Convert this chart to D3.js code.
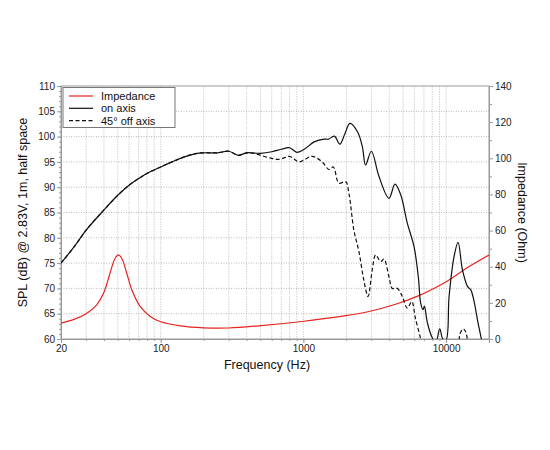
<!DOCTYPE html>
<html>
<head>
<meta charset="utf-8">
<script src="https://cdn.jsdelivr.net/npm/d3@7"></script>
<style>
  body { margin: 0; background: #fff; }
  text { font-family: "Liberation Sans", Arial, sans-serif; }
</style>
</head>
<body>
<div id="chart"></div>
<script>
// on axis SPL (Hz, dB)
var onFreq = [20, 25, 30, 40, 50, 60, 70, 80, 100, 120, 150, 180, 200, 250, 300, 350, 400, 500, 600, 700, 800, 900, 1000, 1200, 1400, 1500, 1650, 1800, 1950, 2120, 2400, 2590, 2730, 2995, 3390, 3980, 4385, 4810, 5350, 5960, 6390, 6640, 6900, 7050, 7400, 8020, 8500, 9030, 9500, 10000, 10500, 11380, 12140, 13020, 14130, 14910, 15730, 16600, 17620, 18500];
var onSpl = [75.0, 78.4, 81.5, 85.5, 88.4, 90.4, 91.7, 92.7, 94.0, 95.0, 96.1, 96.7, 96.8, 96.8, 97.1, 96.3, 96.8, 96.7, 97.0, 97.5, 97.8, 96.9, 97.4, 99.0, 99.5, 99.5, 100.1, 98.5, 100.5, 102.6, 100.9, 98.0, 94.4, 97.1, 92.1, 87.8, 90.6, 88.5, 82.9, 78.3, 72.3, 67.1, 65.8, 66.5, 63.2, 60.2, 59.5, 62.0, 60.0, 59.8, 68.4, 76.3, 79.1, 73.7, 70.4, 69.7, 67.4, 63.8, 60.2, 57.0];

// 45 deg off axis SPL (Hz, dB)
var offFreq = [20, 25, 30, 40, 50, 60, 70, 80, 100, 120, 150, 180, 200, 250, 300, 350, 400, 450, 500, 600, 673, 750, 800, 930, 1000, 1150, 1355, 1510, 1620, 1775, 1980, 2085, 2260, 2450, 2650, 2840, 3040, 3210, 3480, 3670, 3980, 4200, 4550, 4940, 5350, 5750, 6100, 6640, 7000, 12000, 12500, 13240, 13700, 14000, 14500];
var offSpl = [75.0, 78.4, 81.5, 85.5, 88.4, 90.4, 91.7, 92.7, 94.0, 95.0, 96.1, 96.7, 96.8, 96.8, 97.1, 96.3, 96.8, 96.7, 96.3, 95.7, 95.5, 95.9, 96.1, 95.0, 95.3, 96.1, 95.0, 93.5, 94.0, 90.8, 91.1, 88.8, 81.5, 77.3, 71.7, 68.4, 73.7, 76.6, 75.3, 75.8, 72.3, 70.0, 70.0, 68.4, 66.1, 67.4, 64.1, 60.0, 57.0, 58.0, 61.0, 62.0, 61.5, 60.5, 58.0];

// impedance (Hz, Ohm)
var impFreq = [20, 24.4, 30, 35.6, 39.8, 44.1, 47.9, 50.5, 53.3, 57.8, 62.7, 71.7, 84.3, 99, 137, 200, 300, 487, 980, 1980, 2880, 4430, 6450, 8600, 10500, 14500, 20000];
var impOhm = [8.8, 10.7, 14.0, 18.9, 25.4, 36.4, 44.7, 46.5, 44.7, 36.4, 27.2, 18.0, 12.5, 9.7, 7.3, 6.2, 6.1, 7.3, 9.7, 12.9, 15.2, 19.2, 24.0, 28.8, 32.7, 40.1, 46.5];

var splTicks = [60, 65, 70, 75, 80, 85, 90, 95, 100, 105, 110];
var ohmTicks = [0, 20, 40, 60, 80, 100, 120, 140];
var freqTicks = [20, 100, 1000, 10000];

var legendItems = [
    { name: "Impedance", color: "#e8231f", dash: null },
    { name: "on axis", color: "#111", dash: null },
    { name: "45\u00b0 off axis", color: "#111", dash: "4,2.5" }
];

var width = 550, height = 450;
var margin = { top: 86, right: 61, bottom: 111, left: 61 };
var w = width - margin.left - margin.right,
    h = height - margin.top - margin.bottom;

var svg = d3.select("#chart").append("svg")
    .attr("width", width)
    .attr("height", height);

var g = svg.append("g")
    .attr("transform", `translate(${margin.left},${margin.top})`);

var x = d3.scaleLog().domain([20, 20000]).range([0, w]);
var y = d3.scaleLinear().domain([60, 110]).range([h, 0]);
var y2 = d3.scaleLinear().domain([0, 140]).range([h, 0]);

// all 1-2-..-9 frequencies for grid
var gridFreq = [];
[10, 100, 1000, 10000].forEach(function (dec) {
    for (var k = 1; k < 10; k++) {
        var f = dec * k;
        if (f > 20 && f < 20000) gridFreq.push(f);
    }
});

// vertical grid
g.append("g").selectAll("line")
    .data(gridFreq)
    .join("line")
    .attr("x1", d => x(d)).attr("x2", d => x(d))
    .attr("y1", 0).attr("y2", h)
    .attr("stroke", "#c8c8c8")
    .attr("stroke-width", 0.8)
    .attr("stroke-dasharray", "1.5,1");

// horizontal grid
g.append("g").selectAll("line")
    .data(splTicks.slice(1, -1))
    .join("line")
    .attr("x1", 0).attr("x2", w)
    .attr("y1", d => y(d)).attr("y2", d => y(d))
    .attr("stroke", "#a8a8a8")
    .attr("stroke-width", 0.8)
    .attr("stroke-dasharray", "1,1.5");

// frame
g.append("rect")
    .attr("width", w).attr("height", h)
    .attr("fill", "none")
    .attr("stroke", "#999")
    .attr("stroke-width", 1);

function styleAxis(sel) {
    sel.select(".domain").attr("stroke", "#999");
    sel.selectAll(".tick line").attr("stroke", "#999");
    sel.selectAll("text")
        .attr("fill", "#222")
        .style("font-size", "10px")
        .style("font-family", "'Liberation Sans', Arial, sans-serif");
}

// left axis
g.append("g")
    .call(d3.axisLeft(y).tickValues(d3.range(60, 111, 1)).tickSize(2).tickFormat(""))
    .call(styleAxis);
g.append("g")
    .call(d3.axisLeft(y).tickValues(splTicks).tickSize(4).tickPadding(2))
    .call(styleAxis);

// right axis
g.append("g")
    .attr("transform", `translate(${w},0)`)
    .call(d3.axisRight(y2).tickValues(d3.range(10, 140, 20)).tickSize(3).tickFormat(""))
    .call(styleAxis);
g.append("g")
    .attr("transform", `translate(${w},0)`)
    .call(d3.axisRight(y2).tickValues(ohmTicks).tickSize(4).tickPadding(2))
    .call(styleAxis);

// bottom axis
g.append("g")
    .attr("transform", `translate(0,${h})`)
    .call(d3.axisBottom(x).tickValues(gridFreq).tickSize(2).tickFormat(""))
    .call(styleAxis);
g.append("g")
    .attr("transform", `translate(0,${h})`)
    .call(d3.axisBottom(x).tickValues(freqTicks).tickSize(4).tickPadding(2).tickFormat(d3.format("d")))
    .call(styleAxis);

// clip for curves
svg.append("clipPath").attr("id", "plotclip")
    .append("rect").attr("width", w).attr("height", h);

var plot = g.append("g").attr("clip-path", "url(#plotclip)");

var splLine = d3.line()
    .x(d => x(d[0]))
    .y(d => y(d[1]))
    .curve(d3.curveCatmullRom.alpha(0.5));

var ohmLine = d3.line()
    .x(d => x(d[0]))
    .y(d => y2(d[1]))
    .curve(d3.curveCatmullRom.alpha(0.5));

plot.append("path")
    .datum(d3.zip(impFreq, impOhm))
    .attr("d", ohmLine)
    .attr("fill", "none")
    .attr("stroke", legendItems[0].color)
    .attr("stroke-width", 1.2);

plot.append("path")
    .datum(d3.zip(offFreq, offSpl))
    .attr("d", splLine)
    .attr("fill", "none")
    .attr("stroke", legendItems[2].color)
    .attr("stroke-width", 1.2)
    .attr("stroke-dasharray", legendItems[2].dash);

plot.append("path")
    .datum(d3.zip(onFreq, onSpl))
    .attr("d", splLine)
    .attr("fill", "none")
    .attr("stroke", legendItems[1].color)
    .attr("stroke-width", 1.2);

// legend
var lg = g.append("g").attr("transform", "translate(2,1.5)");
lg.append("rect")
    .attr("width", 112).attr("height", 40)
    .attr("fill", "#fff")
    .attr("stroke", "#777")
    .attr("stroke-width", 1);

var row = lg.selectAll("g.item")
    .data(legendItems)
    .join("g")
    .attr("class", "item")
    .attr("transform", (d, i) => `translate(0,${8.5 + i * 12.3})`);

row.append("line")
    .attr("x1", 6).attr("x2", 30)
    .attr("stroke", d => d.color)
    .attr("stroke-width", 1.2)
    .attr("stroke-dasharray", d => d.dash);

row.append("text")
    .attr("x", 38).attr("y", 4)
    .style("font-size", "11px")
    .attr("fill", "#111")
    .text(d => d.name);

// axis titles
svg.append("text")
    .attr("transform", `translate(27,${margin.top + h / 2}) rotate(-90)`)
    .attr("text-anchor", "middle")
    .style("font-size", "12.5px")
    .attr("fill", "#111")
    .text("SPL (dB) @ 2.83V, 1m, half space");

svg.append("text")
    .attr("transform", `translate(518,${margin.top + h / 2}) rotate(90)`)
    .attr("text-anchor", "middle")
    .style("font-size", "12.5px")
    .attr("fill", "#111")
    .text("Impedance (Ohm)");

svg.append("text")
    .attr("x", margin.left + w / 2 - 8)
    .attr("y", 369)
    .attr("text-anchor", "middle")
    .style("font-size", "12.5px")
    .attr("fill", "#111")
    .text("Frequency (Hz)");
</script>
</body>
</html>
